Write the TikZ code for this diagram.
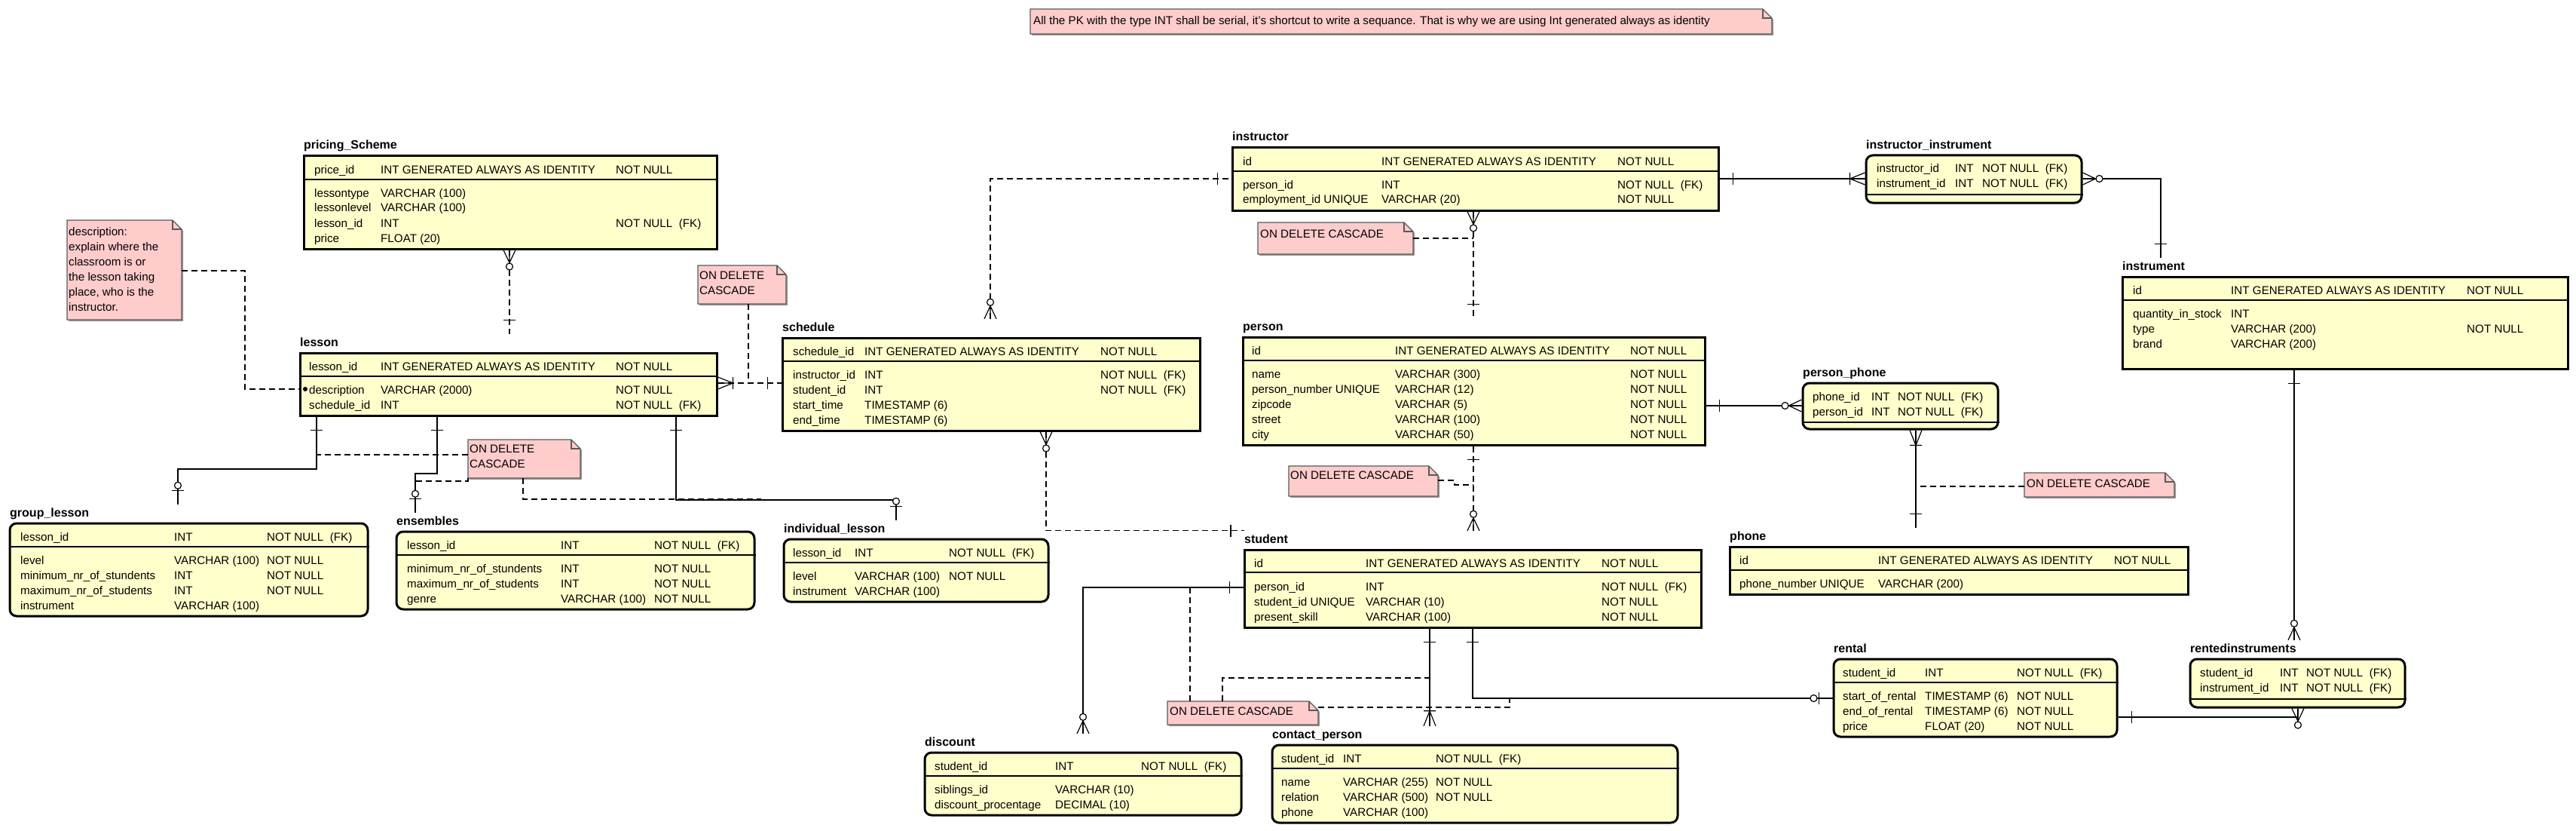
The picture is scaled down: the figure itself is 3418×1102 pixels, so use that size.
\documentclass[tikz,border=0pt]{standalone}
\usepackage{fontspec}
\setmainfont{Liberation Sans}
\usepackage{array}
\usetikzlibrary{fit,calc}
\definecolor{tabfill}{HTML}{FFFFCC}
\definecolor{notefill}{HTML}{FFCCCC}
\newcommand\trow[3]{\begin{tabular}[t]{@{}w{l}{#1pt}@{}w{l}{#2pt}@{}l@{}}#3\end{tabular}}
\newcommand\tlines[1]{\begin{tabular}[t]{@{}l@{}}#1\end{tabular}}
\newcommand\etab[7]{%
  \node[#2, fit={(#3,#4) (#5,#6)}] (#1) {};
  \draw[sepline] (#1.west |- 0,#7) -- (#1.east |- 0,#7);
}
\newcommand\pnote[5]{%
  \node[fit={(#2,#3) (#4,#5)}, inner sep=0pt, outer sep=0pt] (#1) {};
  \fill[black!40] ([xshift=2pt,yshift=-2pt]#1.south west) -- ([xshift=2pt,yshift=-2pt]#1.north west) -- ([xshift=-10pt,yshift=-2pt]#1.north east) -- ([xshift=2pt,yshift=-14pt]#1.north east) -- ([xshift=2pt,yshift=-2pt]#1.south east) -- cycle;
  \draw[notedraw] (#1.south west) -- (#1.north west) -- ([xshift=-12pt]#1.north east) -- ([yshift=-12pt]#1.north east) -- (#1.south east) -- cycle;
  \draw[notefold] ([xshift=-12pt]#1.north east) |- ([yshift=-12pt]#1.north east);
}
\tikzset{
  tbl/.style={draw, line width=3pt, fill=tabfill, inner sep=0pt},
  rtbl/.style={tbl, rounded corners=9pt},
  sepline/.style={line width=2pt},
  ttl/.style={anchor=base west, font=\bfseries\fontsize{16}{20}\selectfont, inner xsep=0pt, inner ysep=4pt, text height=12pt, text depth=3pt},
  txt/.style={anchor=base west, inner sep=0pt, font=\fontsize{15.2}{20}\selectfont},
  notedraw/.style={draw=black!65, line width=1.2pt, fill=notefill},
  notefold/.style={draw=black!65, line width=1.2pt},
  rel/.style={line width=1.2pt},
  drel/.style={line width=1.2pt, dash pattern=on 8pt off 5pt},
  erone/.pic={\draw[line width=1.2pt] (18,-8) -- (18,8);},
  eronemany/.pic={\draw[line width=1.2pt] (0,-8) -- (20,0) -- (0,8) (0,0) -- (20,0) (20,-8) -- (20,8);},
  erzeromany/.pic={\draw[line width=1.2pt] (0,-8) -- (17,0) -- (0,8) (0,0) -- (17,0);
                   \draw[line width=1.2pt, fill=white] (22,0) circle (4.5);},
  erzeroone/.pic={\draw[line width=1.2pt] (18,-8) -- (18,8);
                  \draw[line width=1.2pt, fill=white] (25,0) circle (4.5);},
}
\begin{document}
\begin{tikzpicture}[x=1pt,y=-1pt]
\fill[white] (0,0) rectangle (3418,1102);
\useasboundingbox (0,0) rectangle (3418,1102);

% ---------------- notes ----------------
\pnote{n0}{1367}{12}{2351}{45}
\node[txt] (n0-x) at (1371,33) {All the PK with the type INT shall be serial, it's shortcut to write a sequance. That is why we are using Int generated always as identity};
\pnote{nd}{89}{292}{241}{424}
\node[txt] (nd-x) at (91,312) {\tlines{description:\\explain where the\\classroom is or\\the lesson taking\\place, who is the\\instructor.}};
\pnote{na}{926}{352}{1043}{403}
\node[txt] (na-x) at (928,370) {\tlines{ON DELETE\\CASCADE}};
\pnote{nb}{621}{583}{770}{634}
\node[txt] (nb-x) at (623,600) {\tlines{ON DELETE\\CASCADE}};
\pnote{nc}{1669}{295}{1875}{337}
\node[txt] (nc-x) at (1672,315) {ON DELETE CASCADE};
\pnote{ndd}{1710}{618}{1908}{658}
\node[txt] (ndd-x) at (1712,635) {ON DELETE CASCADE};
\pnote{ne}{2686}{627}{2885}{659}
\node[txt] (ne-x) at (2689,646) {ON DELETE CASCADE};
\pnote{nf}{1549}{930}{1749}{961}
\node[txt] (nf-x) at (1552,948) {ON DELETE CASCADE};

% ---------------- tables ----------------
% pricing_Scheme
\etab{pri}{tbl}{403}{207}{951}{330}{238}
\node[ttl] (pri-t) at (403,198) {pricing\_Scheme};
\node[txt] (pri-k) at (417,230) {\trow{88}{312}{price\_id & INT GENERATED ALWAYS AS IDENTITY & NOT NULL}};
\node[txt] (pri-a) at (417,261) {\trow{88}{312}{lessontype & VARCHAR (100) & \\ lessonlevel & VARCHAR (100) & \\ lesson\_id & INT & NOT NULL\ \ (FK)\\ price & FLOAT (20) & }};

% lesson
\etab{les}{tbl}{398}{468}{951}{551}{499}
\node[ttl] (les-t) at (398,459) {lesson};
\node[txt] (les-k) at (410,491) {\trow{95}{312}{lesson\_id & INT GENERATED ALWAYS AS IDENTITY & NOT NULL}};
\node[txt] (les-a) at (410,522) {\trow{95}{312}{description & VARCHAR (2000) & NOT NULL\\ schedule\_id & INT & NOT NULL\ \ (FK)}};

% schedule
\etab{sch}{tbl}{1038}{448}{1592}{571}{479}
\node[ttl] (sch-t) at (1038,439) {schedule};
\node[txt] (sch-k) at (1052,471) {\trow{95}{313}{schedule\_id & INT GENERATED ALWAYS AS IDENTITY & NOT NULL}};
\node[txt] (sch-a) at (1052,502) {\trow{95}{313}{instructor\_id & INT & NOT NULL\ \ (FK)\\ student\_id & INT & NOT NULL\ \ (FK)\\ start\_time & TIMESTAMP (6) & \\ end\_time & TIMESTAMP (6) & }};

% instructor
\etab{ins}{tbl}{1635}{196}{2280}{279}{227}
\node[ttl] (ins-t) at (1635,187) {instructor};
\node[txt] (ins-k) at (1649,219) {\trow{184}{313}{id & INT GENERATED ALWAYS AS IDENTITY & NOT NULL}};
\node[txt] (ins-a) at (1649,250) {\trow{184}{313}{person\_id & INT & NOT NULL\ \ (FK)\\ employment\_id UNIQUE & VARCHAR (20) & NOT NULL}};

% person
\etab{per}{tbl}{1649}{447}{2262}{590}{478}
\node[ttl] (per-t) at (1649,438) {person};
\node[txt] (per-k) at (1661,470) {\trow{190}{312}{id & INT GENERATED ALWAYS AS IDENTITY & NOT NULL}};
\node[txt] (per-a) at (1661,501) {\trow{190}{312}{name & VARCHAR (300) & NOT NULL\\ person\_number UNIQUE & VARCHAR (12) & NOT NULL\\ zipcode & VARCHAR (5) & NOT NULL\\ street & VARCHAR (100) & NOT NULL\\ city & VARCHAR (50) & NOT NULL}};

% student
\etab{stu}{tbl}{1651}{729}{2257}{832}{759}
\node[ttl] (stu-t) at (1651,720) {student};
\node[txt] (stu-k) at (1664,752) {\trow{148}{313}{id & INT GENERATED ALWAYS AS IDENTITY & NOT NULL}};
\node[txt] (stu-a) at (1664,783) {\trow{148}{313}{person\_id & INT & NOT NULL\ \ (FK)\\ student\_id UNIQUE & VARCHAR (10) & NOT NULL\\ present\_skill & VARCHAR (100) & NOT NULL}};

% instrument
\etab{inst}{tbl}{2816}{367}{3407}{489}{398}
\node[ttl] (inst-t) at (2816,358) {instrument};
\node[txt] (inst-k) at (2830,390) {\trow{130}{313}{id & INT GENERATED ALWAYS AS IDENTITY & NOT NULL}};
\node[txt] (inst-a) at (2830,421) {\trow{130}{313}{quantity\_in\_stock & INT & \\ type & VARCHAR (200) & NOT NULL\\ brand & VARCHAR (200) & }};

% phone
\etab{pho}{tbl}{2295}{725}{2903}{788}{756}
\node[ttl] (pho-t) at (2295,716) {phone};
\node[txt] (pho-k) at (2308,748) {\trow{184}{313}{id & INT GENERATED ALWAYS AS IDENTITY & NOT NULL}};
\node[txt] (pho-a) at (2308,779) {\trow{184}{313}{phone\_number UNIQUE & VARCHAR (200) & }};

% instructor_instrument
\etab{insi}{rtbl}{2476}{206}{2762}{269}{258}
\node[ttl] (insi-t) at (2476,197) {instructor\_instrument};
\node[txt] (insi-k) at (2490,229) {\trow{104}{36}{instructor\_id & INT & NOT NULL\ \ (FK)\\ instrument\_id & INT & NOT NULL\ \ (FK)}};

% person_phone
\etab{pp}{rtbl}{2392}{508}{2651}{569}{560}
\node[ttl] (pp-t) at (2392,499) {person\_phone};
\node[txt] (pp-k) at (2405,531) {\trow{78}{35}{phone\_id & INT & NOT NULL\ \ (FK)\\ person\_id & INT & NOT NULL\ \ (FK)}};

% rentedinstruments
\etab{rin}{rtbl}{2906}{874}{3191}{938}{927}
\node[ttl] (rin-t) at (2906,865) {rentedinstruments};
\node[txt] (rin-k) at (2919,897) {\trow{106}{35}{student\_id & INT & NOT NULL\ \ (FK)\\ instrument\_id & INT & NOT NULL\ \ (FK)}};

% rental
\etab{ren}{rtbl}{2433}{874}{2809}{977}{905}
\node[ttl] (ren-t) at (2433,865) {rental};
\node[txt] (ren-k) at (2445,897) {\trow{109}{122}{student\_id & INT & NOT NULL\ \ (FK)}};
\node[txt] (ren-a) at (2445,928) {\trow{109}{122}{start\_of\_rental & TIMESTAMP (6) & NOT NULL\\ end\_of\_rental & TIMESTAMP (6) & NOT NULL\\ price & FLOAT (20) & NOT NULL}};

% discount
\etab{dis}{rtbl}{1227}{998}{1647}{1081}{1029}
\node[ttl] (dis-t) at (1227,989) {discount};
\node[txt] (dis-k) at (1240,1021) {\trow{160}{114}{student\_id & INT & NOT NULL\ \ (FK)}};
\node[txt] (dis-a) at (1240,1052) {\trow{160}{114}{siblings\_id & VARCHAR (10) & \\ discount\_procentage & DECIMAL (10) & }};

% contact_person
\etab{con}{rtbl}{1688}{988}{2226}{1091}{1019}
\node[ttl] (con-t) at (1688,979) {contact\_person};
\node[txt] (con-k) at (1700,1011) {\trow{82}{123}{student\_id & INT & NOT NULL\ \ (FK)}};
\node[txt] (con-a) at (1700,1042) {\trow{82}{123}{name & VARCHAR (255) & NOT NULL\\ relation & VARCHAR (500) & NOT NULL\\ phone & VARCHAR (100) & }};

% individual_lesson
\etab{ind}{rtbl}{1040}{715}{1391}{798}{746}
\node[ttl] (ind-t) at (1040,706) {individual\_lesson};
\node[txt] (ind-k) at (1052,738) {\trow{82}{125}{lesson\_id & INT & NOT NULL\ \ (FK)}};
\node[txt] (ind-a) at (1052,769) {\trow{82}{125}{level & VARCHAR (100) & NOT NULL\\ instrument & VARCHAR (100) & }};

% group_lesson
\etab{grp}{rtbl}{13}{694}{488}{817}{725}
\node[ttl] (grp-t) at (13,685) {group\_lesson};
\node[txt] (grp-k) at (27,717) {\trow{204}{123}{lesson\_id & INT & NOT NULL\ \ (FK)}};
\node[txt] (grp-a) at (27,748) {\trow{204}{123}{level & VARCHAR (100) & NOT NULL\\ minimum\_nr\_of\_stundents & INT & NOT NULL\\ maximum\_nr\_of\_students & INT & NOT NULL\\ instrument & VARCHAR (100) & }};

% ensembles
\etab{ens}{rtbl}{526}{705}{1001}{808}{736}
\node[ttl] (ens-t) at (526,696) {ensembles};
\node[txt] (ens-k) at (540,728) {\trow{204}{124}{lesson\_id & INT & NOT NULL\ \ (FK)}};
\node[txt] (ens-a) at (540,759) {\trow{204}{124}{minimum\_nr\_of\_stundents & INT & NOT NULL\\ maximum\_nr\_of\_students & INT & NOT NULL\\ genre & VARCHAR (100) & NOT NULL}};

% ---------------- connectors ----------------
\draw[drel] (pri.south -| 676,0) -- (les-t.north -| 676,0);
\draw[drel] (les.east |- 0,508) -- (sch.west |- 0,508);
\draw[drel] (nd.east |- 0,359) -| (325,516) -- (les.west |- 0,516);
\fill (405,516) circle (3);
\draw[drel] (na.south -| 993,0) -- (993,508);
\draw[rel] (les.south -| 420,0) |- (236,622) -- (grp-t.north -| 236,0);
\draw[rel] (les.south -| 580,0) |- (551,628) -- (ens-t.north -| 551,0);
\draw[rel] (les.south -| 897,0) |- (1189,663) -- (ind-t.north -| 1189,0);
\draw[drel] (nb.west |- 0,603) -- (420,603);
\draw[drel] (nb.south west) |- (551,638);
\draw[drel] (nb.south -| 694,0) |- (1010,662);
\draw[drel] (sch-t.north -| 1314,0) |- (ins.west |- 0,237);
\draw[rel] (ins.east |- 0,237) -- (insi.west |- 0,237);
\draw[rel] (insi.east |- 0,237) -| (inst-t.north -| 2867,0);
\draw[drel] (ins.south -| 1955,0) -- (per-t.north -| 1955,0);
\draw[drel] (nc.east |- 0,316) -- (1955,316);
\draw[rel] (per.east |- 0,538) -- (pp.west |- 0,538);
\draw[rel] (pp.south -| 2542,0) -- (pho-t.north -| 2542,0);
\draw[drel] (ne.west |- 0,645) -- (2542,645);
\draw[drel] (per.south -| 1955,0) -- (stu-t.north -| 1955,0);
\draw[drel] (ndd.east |- 0,637) -- (1930,637) -- (1930,643) -- (1955,643);
\draw[drel] (sch.south -| 1388,0) |- (stu-t.north west);
\draw[rel] (stu.west |- 0,779) -| (dis-t.north -| 1437,0);
\draw[rel] (stu.south -| 1897,0) -- (con-t.north -| 1897,0);
\draw[rel] (stu.south -| 1954,0) |- (ren.west |- 0,926);
\draw[drel] (nf.north -| 1579,0) -- (1579,779);
\draw[drel] (nf.north -| 1622,0) |- (1897,899);
\draw[drel] (nf.east |- 0,938) -| (2003,926);
\draw[rel] (inst.south -| 3044,0) -- (rin-t.north -| 3044,0);
\draw[rel] (ren.east |- 0,951) -| (rin.south -| 3049,0);

% ---------------- cardinality marks ----------------
\path (pri.south -| 676,0) pic[rotate=-90]{erzeromany};
\path (les-t.north -| 676,0) pic[rotate=90]{erone};
\path (les.east |- 0,508) pic{eronemany};
\path (sch.west |- 0,508) pic[rotate=180]{erone};
\path (les.south -| 420,0) pic[rotate=-90]{erone};
\path (les.south -| 580,0) pic[rotate=-90]{erone};
\path (les.south -| 897,0) pic[rotate=-90]{erone};
\path (grp-t.north -| 236,0) pic[rotate=90]{erzeroone};
\path (ens-t.north -| 551,0) pic[rotate=90]{erzeroone};
\path (ind-t.north -| 1189,0) pic[rotate=90]{erzeroone};
\path (sch-t.north -| 1314,0) pic[rotate=90]{erzeromany};
\path (ins.west |- 0,237) pic[rotate=180]{erone};
\path (ins.east |- 0,237) pic{erone};
\path (insi.west |- 0,237) pic[rotate=180]{eronemany};
\path (insi.east |- 0,237) pic{erzeromany};
\path (inst-t.north -| 2867,0) pic[rotate=90]{erone};
\path (ins.south -| 1955,0) pic[rotate=-90]{erzeromany};
\path (per-t.north -| 1955,0) pic[rotate=90]{erone};
\path (per.east |- 0,538) pic{erone};
\path (pp.west |- 0,538) pic[rotate=180]{erzeromany};
\path (pp.south -| 2542,0) pic[rotate=-90]{eronemany};
\path (pho-t.north -| 2542,0) pic[rotate=90]{erone};
\path (per.south -| 1955,0) pic[rotate=-90]{erone};
\path (stu-t.north -| 1955,0) pic[rotate=90]{erzeromany};
\path (sch.south -| 1388,0) pic[rotate=-90]{erzeromany};
\path (stu-t.north west) pic[rotate=180]{erone};
\path (stu.west |- 0,779) pic[rotate=180]{erone};
\path (dis-t.north -| 1437,0) pic[rotate=90]{erzeromany};
\path (stu.south -| 1897,0) pic[rotate=-90]{erone};
\path (con-t.north -| 1897,0) pic[rotate=90]{eronemany};
\path (stu.south -| 1954,0) pic[rotate=-90]{erone};
\path (ren.west |- 0,926) pic[rotate=180]{erzeroone};
\path (inst.south -| 3044,0) pic[rotate=-90]{erone};
\path (rin-t.north -| 3044,0) pic[rotate=90]{erzeromany};
\path (ren.east |- 0,951) pic{erone};
\path (rin.south -| 3049,0) pic[rotate=-90]{erzeromany};
\end{tikzpicture}
\end{document}
